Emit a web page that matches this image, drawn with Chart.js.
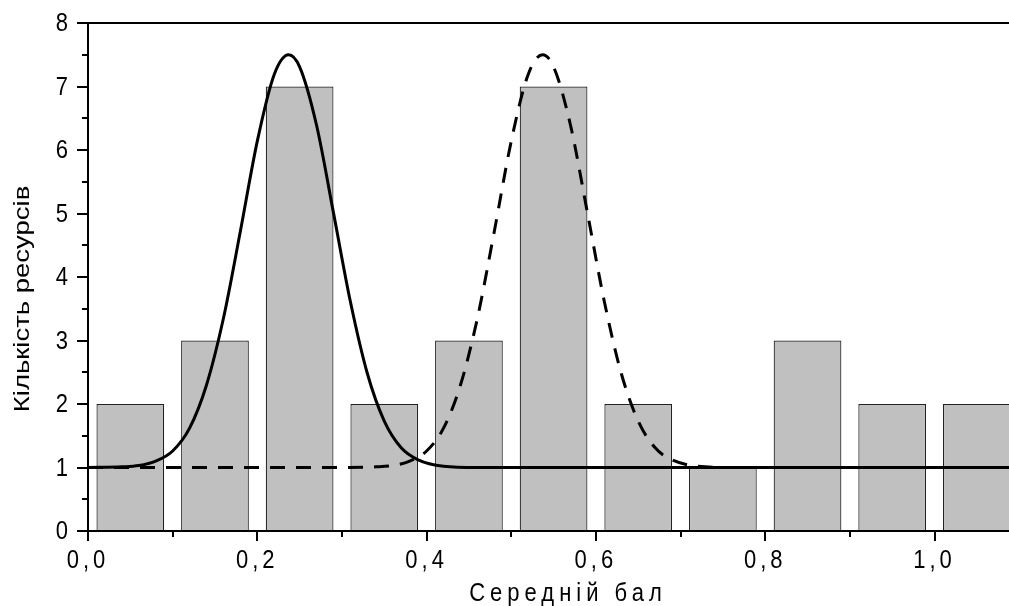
<!DOCTYPE html>
<html>
<head>
<meta charset="utf-8">
<title>Середній бал</title>
<script src="https://cdn.jsdelivr.net/npm/chart.js@4/dist/chart.umd.min.js"></script>
<style>
  html, body { margin: 0; padding: 0; background: #fff; }
  #wrap { width: 1009px; height: 606px; }
</style>
</head>
<body>
<div id="wrap"><canvas id="grafica" width="1009" height="606"></canvas></div>
<script>
// histogram
const binCenters = [0.05, 0.15, 0.25, 0.35, 0.45, 0.55, 0.65, 0.75, 0.85, 0.95, 1.05];
const counts = [2, 3, 7, 2, 3, 7, 2, 1, 3, 2, 2];

// solid curve
const solidX = [0, 0.04, 0.06, 0.08, 0.10, 0.12, 0.14, 0.16, 0.18, 0.20, 0.22, 0.237, 0.25, 0.27, 0.29, 0.31, 0.33, 0.35, 0.37, 0.39, 0.42, 0.46, 1.09];
const solidY = [1.00, 1.01, 1.03, 1.10, 1.26, 1.62, 2.30, 3.35, 4.72, 6.14, 7.19, 7.50, 7.31, 6.39, 5.01, 3.61, 2.48, 1.73, 1.31, 1.12, 1.02, 1.00, 1.00];

// dashed curve
const dashX = [0, 0.30, 0.34, 0.36, 0.38, 0.40, 0.42, 0.44, 0.46, 0.48, 0.50, 0.52, 0.537, 0.55, 0.57, 0.59, 0.61, 0.63, 0.65, 0.67, 0.69, 0.72, 0.76, 1.09];
const dashY = [1.00, 1.00, 1.01, 1.03, 1.10, 1.26, 1.62, 2.30, 3.35, 4.72, 6.14, 7.19, 7.50, 7.31, 6.39, 5.01, 3.61, 2.48, 1.73, 1.31, 1.12, 1.02, 1.00, 1.00];

// ticks
const xTicks = [0, 0.2, 0.4, 0.6, 0.8, 1.0];
const xTickLabels = ['0,0', '0,2', '0,4', '0,6', '0,8', '1,0'];
const xMinor = [0.1, 0.3, 0.5, 0.7, 0.9];
const yTicks = [0, 1, 2, 3, 4, 5, 6, 7, 8];
const yTickLabels = ['0', '1', '2', '3', '4', '5', '6', '7', '8'];
const yMinor = [0.5, 1.5, 2.5, 3.5, 4.5, 5.5, 6.5, 7.5];

const xTitulo = 'Середній бал';
const yTitulo = 'Кількість ресурсів';

const fuente = '"Liberation Sans", Arial, sans-serif';
const estirar = 1.2; // the original text is a bit taller than wide

const toPts = (xs, ys) => xs.map((x, i) => ({ x: x, y: ys[i] }));

function texto(ctx, s, x, y, sy) {
  ctx.save();
  ctx.translate(x, y);
  ctx.scale(1, sy);
  ctx.fillText(s, 0, 0);
  ctx.restore();
}

// axes, ticks and titles drawn by hand
const ejes = {
  id: 'ejes',
  afterDatasetsDraw(chart) {
    const ctx = chart.ctx;
    const a = chart.chartArea;
    const sx = chart.scales.x;
    const sy = chart.scales.y;
    ctx.save();
    ctx.strokeStyle = '#000';
    ctx.lineWidth = 2;
    ctx.beginPath();
    ctx.moveTo(a.left, a.top);
    ctx.lineTo(chart.width, a.top);
    ctx.moveTo(a.left, a.top);
    ctx.lineTo(a.left, a.bottom);
    ctx.moveTo(a.left, a.bottom);
    ctx.lineTo(chart.width, a.bottom);
    ctx.stroke();

    // y ticks
    ctx.beginPath();
    yTicks.forEach(v => {
      const p = Math.round(sy.getPixelForValue(v));
      ctx.moveTo(a.left - 11, p);
      ctx.lineTo(a.left, p);
    });
    yMinor.forEach(v => {
      const p = Math.round(sy.getPixelForValue(v));
      ctx.moveTo(a.left - 6, p);
      ctx.lineTo(a.left, p);
    });
    // x ticks
    xTicks.forEach(v => {
      const p = Math.round(sx.getPixelForValue(v));
      ctx.moveTo(p, a.bottom);
      ctx.lineTo(p, a.bottom + 10);
    });
    xMinor.forEach(v => {
      const p = Math.round(sx.getPixelForValue(v));
      ctx.moveTo(p, a.bottom);
      ctx.lineTo(p, a.bottom + 6);
    });
    ctx.stroke();

    ctx.fillStyle = '#000';
    ctx.font = '22px ' + fuente;
    ctx.textAlign = 'right';
    ctx.textBaseline = 'middle';
    yTicks.forEach((v, i) => {
      texto(ctx, yTickLabels[i], a.left - 20, sy.getPixelForValue(v) + 1, estirar);
    });

    ctx.textAlign = 'center';
    ctx.textBaseline = 'alphabetic';
    ctx.letterSpacing = '4px';
    xTicks.forEach((v, i) => {
      texto(ctx, xTickLabels[i], sx.getPixelForValue(v), a.bottom + 37, estirar);
    });

    ctx.font = '22px ' + fuente;
    ctx.letterSpacing = '5px';
    texto(ctx, xTitulo, 568, 601, estirar);

    ctx.letterSpacing = '0px';
    ctx.font = '22px ' + fuente;
    ctx.translate(29, 299);
    ctx.rotate(-Math.PI / 2);
    ctx.scale(1.25, 1);
    ctx.fillText(yTitulo, 0, 0);
    ctx.restore();
  }
};

new Chart(document.getElementById('grafica'), {
  type: 'bar',
  data: {
    datasets: [
      {
        type: 'line',
        data: toPts(solidX, solidY),
        borderColor: '#000',
        borderWidth: 3,
        pointRadius: 0,
        cubicInterpolationMode: 'monotone',
        order: 1
      },
      {
        type: 'line',
        data: toPts(dashX, dashY),
        borderColor: '#000',
        borderWidth: 3,
        borderDash: [15, 11],
        pointRadius: 0,
        cubicInterpolationMode: 'monotone',
        order: 1
      },
      {
        type: 'bar',
        data: toPts(binCenters, counts),
        backgroundColor: '#c0c0c0',
        borderColor: '#222',
        borderWidth: 1.2,
        categoryPercentage: 1,
        barPercentage: 0.8,
        order: 2
      }
    ]
  },
  options: {
    responsive: false,
    animation: false,
    devicePixelRatio: 1,
    layout: { padding: { top: 23, right: 0, left: 0, bottom: 0 } },
    plugins: {
      legend: { display: false },
      tooltip: { enabled: false }
    },
    scales: {
      x: {
        type: 'linear',
        min: 0,
        max: 1.088,
        offset: false,
        grid: { display: false, drawTicks: false },
        border: { display: false },
        ticks: { display: false },
        afterBuildTicks: s => {
          s.ticks = xTicks.concat(xMinor).sort((p, q) => p - q).map(v => ({ value: v }));
        },
        afterFit: s => { s.height = 75; }
      },
      y: {
        min: 0,
        max: 8,
        grid: { display: false, drawTicks: false },
        border: { display: false },
        ticks: { display: false },
        afterFit: s => { s.width = 88; }
      }
    }
  },
  plugins: [ejes]
});
</script>
</body>
</html>
